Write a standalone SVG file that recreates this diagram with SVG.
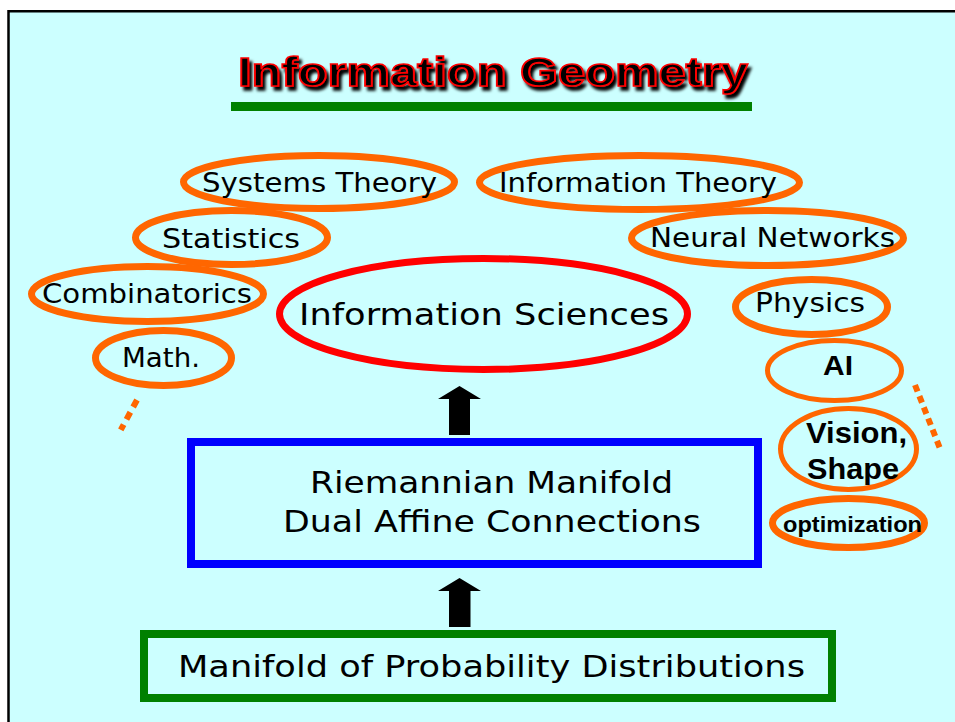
<svg xmlns="http://www.w3.org/2000/svg" width="955" height="722" viewBox="0 0 955 722">
<defs>
<style>
.bg{fill:#CCFFFF}
.oe{fill:none;stroke:#FF6600;stroke-width:7}
.oet{fill:none;stroke:#FF6600;stroke-width:5}
.t{font-family:"DejaVu Sans","Liberation Sans",sans-serif;font-size:26px;fill:#000}
.tl{font-family:"DejaVu Sans","Liberation Sans",sans-serif;font-size:30px;fill:#000}
.tb{font-family:"Liberation Sans",Arial,sans-serif;font-weight:bold;fill:#000}
.arrow{fill:#000}
.dots{fill:none;stroke:#FF6600;stroke-width:6}
</style>
<filter id="sh" x="-5%" y="-30%" width="110%" height="160%">
<feGaussianBlur in="SourceAlpha" stdDeviation="1.5" result="b"/>
<feOffset in="b" dx="3" dy="4" result="o"/>
<feMerge><feMergeNode in="o"/><feMergeNode in="SourceGraphic"/></feMerge>
</filter>
</defs>
<rect x="0" y="0" width="955" height="722" fill="#FFFFFF"/>
<rect class="bg" x="8" y="11" width="947" height="711"/>
<path d="M8.5,722 V11.2 H955" fill="none" stroke="#000" stroke-width="2.5"/>

<g id="title">
<text x="238" y="86" font-family="Liberation Sans,Arial,sans-serif" font-weight="bold" font-size="40" textLength="510" lengthAdjust="spacingAndGlyphs" fill="#000" stroke="#FF0000" stroke-width="1.6" filter="url(#sh)">Information Geometry</text>
<rect x="231" y="102" width="521" height="9" fill="#008000"/>
</g>

<g id="systems-theory">
<ellipse class="oe" cx="319" cy="182" rx="135.5" ry="26.5"/>
<text class="t" x="202" y="192" textLength="235" lengthAdjust="spacingAndGlyphs">Systems Theory</text>
</g>
<g id="statistics">
<ellipse class="oe" cx="231.5" cy="237.5" rx="96" ry="27"/>
<text class="t" x="162" y="248" textLength="138" lengthAdjust="spacingAndGlyphs">Statistics</text>
</g>
<g id="combinatorics">
<ellipse class="oe" cx="147.5" cy="294" rx="116" ry="27.5"/>
<text class="t" x="42" y="303" textLength="210" lengthAdjust="spacingAndGlyphs">Combinatorics</text>
</g>
<g id="math">
<ellipse class="oe" cx="163.5" cy="358" rx="68" ry="27.5"/>
<text class="t" x="122" y="367" textLength="78" lengthAdjust="spacingAndGlyphs">Math.</text>
</g>
<g id="information-sciences">
<ellipse cx="483.5" cy="314" rx="204" ry="55.5" fill="none" stroke="#FF0000" stroke-width="7"/>
<text class="tl" x="299" y="325" textLength="370" lengthAdjust="spacingAndGlyphs">Information Sciences</text>
</g>
<g id="information-theory">
<ellipse class="oe" cx="639.5" cy="182.5" rx="160" ry="27"/>
<text class="t" x="499" y="192" textLength="278" lengthAdjust="spacingAndGlyphs">Information Theory</text>
</g>
<g id="neural-networks">
<ellipse class="oe" cx="767.5" cy="238" rx="136" ry="27.5"/>
<text class="t" x="650" y="247" textLength="245" lengthAdjust="spacingAndGlyphs">Neural Networks</text>
</g>
<g id="physics">
<ellipse class="oe" cx="811.5" cy="307" rx="76" ry="27.5"/>
<text class="t" x="755" y="312" textLength="110" lengthAdjust="spacingAndGlyphs">Physics</text>
</g>
<g id="ai">
<ellipse class="oet" cx="834.5" cy="370.5" rx="67" ry="30"/>
<text class="tb" x="823" y="375" font-size="27" textLength="30" lengthAdjust="spacingAndGlyphs">AI</text>
</g>
<g id="vision-shape">
<ellipse class="oet" cx="848.5" cy="449" rx="68" ry="40.5"/>
<text class="tb" x="806" y="443" font-size="29" textLength="101" lengthAdjust="spacingAndGlyphs">Vision,</text>
<text class="tb" x="807" y="479" font-size="29" textLength="92" lengthAdjust="spacingAndGlyphs">Shape</text>
</g>
<g id="optimization">
<ellipse class="oe" cx="848.5" cy="523" rx="76" ry="24.5"/>
<text class="tb" x="783" y="532" font-size="22" textLength="139" lengthAdjust="spacingAndGlyphs">optimization</text>
</g>

<g id="riemannian-manifold">
<rect x="191" y="442" width="567" height="122" fill="none" stroke="#0000FF" stroke-width="8"/>
<text class="tl" x="310" y="493" textLength="363" lengthAdjust="spacingAndGlyphs">Riemannian Manifold</text>
<text class="tl" x="283" y="532" textLength="418" lengthAdjust="spacingAndGlyphs">Dual Affine Connections</text>
</g>

<g id="probability-manifold">
<rect x="144" y="634" width="688" height="64" fill="none" stroke="#008000" stroke-width="8"/>
<text class="tl" x="178" y="677" textLength="627" lengthAdjust="spacingAndGlyphs">Manifold of Probability Distributions</text>
</g>

<g id="connectors">
<polygon class="arrow" points="459.5,386 481,399 470,399 470,435 449,435 449,399 438,399"/>
<polygon class="arrow" points="459.5,578 481,591 470.5,591 470.5,627 449,627 449,591 438,591"/>
<line class="dots" x1="137" y1="400" x2="118" y2="435" stroke-dasharray="8,6,8,6,6,20"/>
<line class="dots" x1="915" y1="385" x2="941" y2="451" stroke-dasharray="7,5"/>
</g>
</svg>
